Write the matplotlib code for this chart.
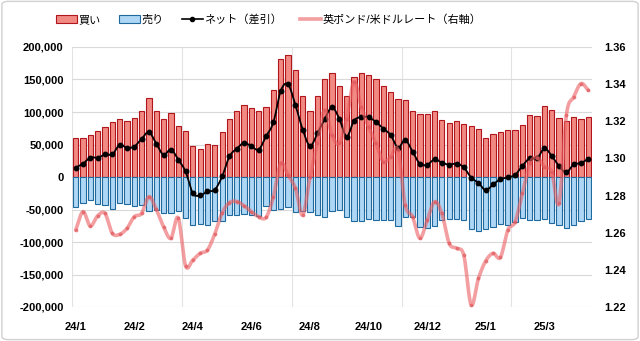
import matplotlib
matplotlib.use('Agg')
import matplotlib.pyplot as plt
import matplotlib.ticker
import matplotlib.patches as mpatches
import matplotlib.lines as mlines
import numpy as np
import pandas

plt.rcParams['font.family'] = ['Liberation Sans', 'Noto Sans CJK JP']

# weekly positions (CFTC), from 2024/1/2
weeks = pandas.date_range('2024-01-02', periods=71, freq='7D')

long_pos = [60700, 60700, 65200, 71400, 77500, 84100, 89700, 86700, 91200, 101900,
            121800, 101900, 89700, 97900, 79000, 71400, 48400, 43800, 51500, 48900,
            68800, 90000, 101900, 110100, 105500, 101900, 107000, 134600, 182000, 188100,
            164900, 125100, 102200, 125100, 150900, 160000, 140700, 123900, 154400, 160000,
            157000, 150900, 140700, 131000, 120300, 118800, 100900, 97400, 97400, 102200,
            88200, 83800, 85600, 81000, 79000, 74400, 59600, 65800, 68800, 72900,
            72900, 80500, 94800, 94300, 108600, 103500, 91200, 85600, 92800, 89700,
            92800]
short_pos = [-46400, -40300, -35400, -41800, -42800, -49400, -40300, -41800, -44300, -43300,
             -52800, -50500, -55600, -55600, -52200, -62900, -73400, -72100, -73700, -68300,
             -68000, -58400, -58100, -57600, -58400, -59600, -44300, -50500, -49400, -45600,
             -54000, -52200, -54300, -58100, -61700, -53000, -51000, -61700, -67800, -67800,
             -65200, -66300, -66300, -66300, -75200, -61900, -61900, -77000, -78500, -75200,
             -66300, -64700, -65000, -66300, -79800, -83600, -80000, -77000, -72400, -73400,
             -69800, -63200, -65800, -65800, -64700, -70900, -74400, -78500, -73400, -68300,
             -64700]
gbpusd = [1.2614, 1.2713, 1.2636, 1.2691, 1.2704, 1.2597, 1.2591, 1.2623, 1.2686, 1.2704,
          1.2794, 1.2726, 1.2632, 1.2570, 1.2680, 1.2422, 1.2453, 1.2489, 1.2507, 1.2594,
          1.2707, 1.2762, 1.2768, 1.2745, 1.2713, 1.2686, 1.2683, 1.2794, 1.2973, 1.2910,
          1.2840, 1.2695, 1.2901, 1.3081, 1.3260, 1.3125, 1.3081, 1.3215, 1.3412, 1.3278,
          1.3170, 1.3081, 1.2982, 1.3009, 1.3045, 1.2749, 1.2686, 1.2570, 1.2668, 1.2767,
          1.2704, 1.2543, 1.2516, 1.2478, 1.2211, 1.2354, 1.2449, 1.2489, 1.2467, 1.2614,
          1.2659, 1.2812, 1.2973, 1.3005, 1.2955, 1.2928, 1.2758, 1.3233, 1.3331, 1.3403,
          1.3367]

labels = ['買い', '売り', 'ネット（差引）', '英ポンド/米ドルレート（右軸）']

long_pos = np.array(long_pos)
short_pos = np.array(short_pos)
net_pos = long_pos + short_pos
x = np.arange(len(weeks))


def smooth(xs, ys, n=12):
    # catmull-rom curve through the points (like excel smoothed lines)
    xs = np.asarray(xs, float)
    ys = np.asarray(ys, float)
    px = np.concatenate([[2 * xs[0] - xs[1]], xs, [2 * xs[-1] - xs[-2]]])
    py = np.concatenate([[2 * ys[0] - ys[1]], ys, [2 * ys[-1] - ys[-2]]])
    t = np.linspace(0, 1, n, endpoint=False)[:, None]
    out = []
    for p in (px, py):
        p0, p1, p2, p3 = p[:-3], p[1:-2], p[2:-1], p[3:]
        c = 0.5 * (2 * p1 + (-p0 + p2) * t + (2 * p0 - 5 * p1 + 4 * p2 - p3) * t ** 2
                   + (-p0 + 3 * p1 - 3 * p2 + p3) * t ** 3)
        out.append(np.append(c.T.ravel(), p[-2]))
    return out[0], out[1]


fig = plt.figure(figsize=(6.4, 3.41), dpi=100)
ax = fig.add_axes([72 / 640, 1 - 307 / 341, 520 / 640, 260 / 341])
ax2 = ax.twinx()

red_fill, red_edge = '#F28A84', '#B0161B'
blue_fill, blue_edge = '#AED6F5', '#1E6A9E'
pink = '#EC5F62'

ax.bar(x, long_pos, width=0.72, color=red_fill, edgecolor=red_edge, linewidth=0.8, zorder=2)
ax.bar(x, short_pos, width=0.72, color=blue_fill, edgecolor=blue_edge, linewidth=0.8, zorder=2)

sx, sy = smooth(x, net_pos)
ax.plot(sx, sy, color='black', lw=1.3, zorder=4)
ax.plot(x, net_pos, 'o', color='black', ms=3.2, zorder=5)

gx, gy = smooth(x, gbpusd)
ax2.plot(gx, gy, color=pink, lw=2.6, alpha=0.6, solid_capstyle='round')
ax2.plot(x, gbpusd, 'o', color='#E05A5E', ms=1.8, alpha=0.6)

ax.set_xlim(-0.5, len(x) - 0.5)
ax.set_ylim(-200000, 200000)
ax2.set_ylim(1.22, 1.36)

ax.set_yticks(np.arange(-200000, 200001, 50000))
ax.yaxis.set_major_formatter(matplotlib.ticker.FuncFormatter(lambda v, p: '{:,.0f}'.format(v)))
ax2.set_yticks(np.arange(1.22, 1.3601, 0.02))
ax2.yaxis.set_major_formatter(matplotlib.ticker.FormatStrFormatter('%.2f'))

ax.set_xticks(x[::8])
ax.set_xticklabels([f'{d.year % 100}/{d.month}' for d in weeks[::8]])
ax.set_xticks(np.arange(-0.5, len(x), 15), minor=True)

ax.grid(axis='y', which='major', color='#D9D9D9', lw=0.8, zorder=0)
ax.grid(axis='x', which='minor', color='#E3E3E3', lw=0.8, zorder=0)
ax.set_axisbelow(True)

for a in (ax, ax2):
    for s in a.spines.values():
        s.set_visible(False)
ax.tick_params(axis='both', which='both', length=0)
ax2.tick_params(axis='both', which='both', length=0)
ax.tick_params(axis='y', pad=6, labelsize=8)
ax.tick_params(axis='x', pad=11, labelsize=8)
ax2.tick_params(axis='y', pad=9, labelsize=8)
for lab in ax.get_xticklabels() + ax.get_yticklabels() + ax2.get_yticklabels():
    lab.set_fontweight('bold')

handles = [mpatches.Patch(facecolor=red_fill, edgecolor=red_edge, lw=0.8),
           mpatches.Patch(facecolor=blue_fill, edgecolor=blue_edge, lw=0.8),
           mlines.Line2D([], [], color='black', lw=1.2, marker='o', ms=3),
           mlines.Line2D([], [], color=pink, lw=2.6, alpha=0.6)]
fig.legend(handles, labels, loc='upper left', bbox_to_anchor=(46 / 640, 1 - 4 / 341), ncol=4,
           frameon=False, fontsize=8, handlelength=1.9, handleheight=0.8,
           handletextpad=0.15, columnspacing=1.6)

# outer border
fig.patches.append(mpatches.FancyBboxPatch((0.003, 0.004), 0.994, 0.992, boxstyle='round,pad=0,rounding_size=0.01',
                                           transform=fig.transFigure, fill=False, ec='#D0D0D0', lw=1))

plt.savefig('out.png', dpi=100)
